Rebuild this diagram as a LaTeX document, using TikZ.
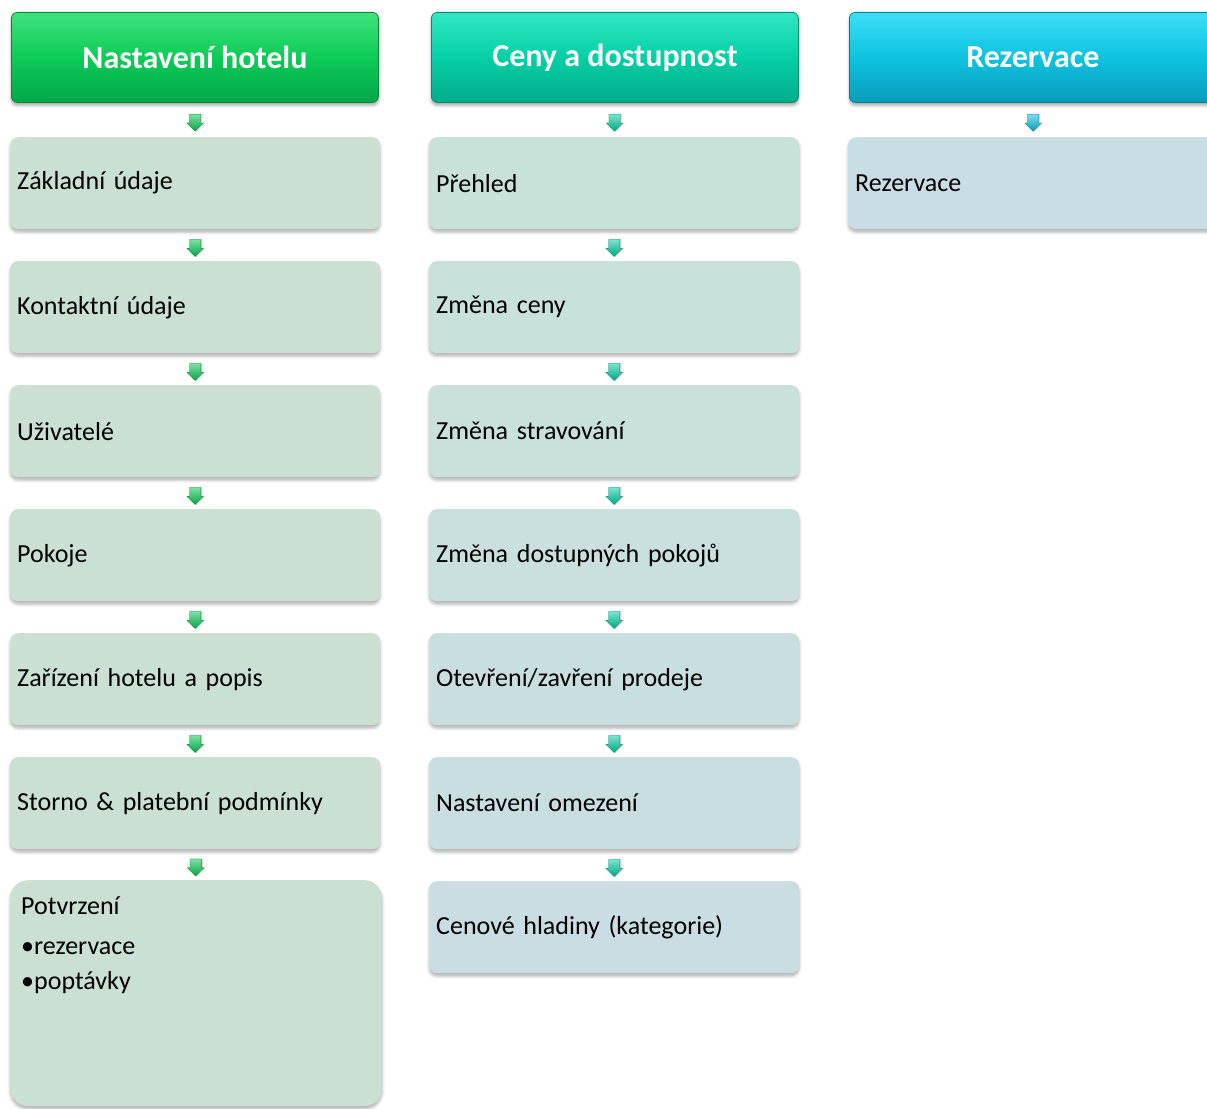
\documentclass[tikz,border=0pt]{standalone}
\usepackage{fontspec}
\setmainfont{Carlito}
\usetikzlibrary{shapes.arrows,shadows.blur,calc}
\definecolor{gT}{HTML}{40E27C}\definecolor{gM}{HTML}{0CCB57}\definecolor{gB}{HTML}{03A749}\definecolor{gD}{HTML}{05843A}
\definecolor{tT}{HTML}{30E8C4}\definecolor{tM}{HTML}{05CFA6}\definecolor{tB}{HTML}{03AC8B}\definecolor{tD}{HTML}{058A70}
\definecolor{cT}{HTML}{3DDEF6}\definecolor{cM}{HTML}{0DC3E0}\definecolor{cB}{HTML}{0A9CBA}\definecolor{cD}{HTML}{077E96}
\definecolor{boxA}{HTML}{C9E0D2}
\definecolor{boxBt}{HTML}{C9E2D9}\definecolor{boxBb}{HTML}{C9DDE3}
\definecolor{boxC}{HTML}{C9DDE4}
\tikzset{
  hdr/.style={rectangle, rounded corners=6pt, anchor=north west, minimum width=367pt, minimum height=90pt,
    font=\bfseries\fontsize{32}{38}\selectfont, text=white, line width=0.8pt,
    blur shadow={shadow xshift=0pt, shadow yshift=-3pt, shadow opacity=35, shadow blur radius=3pt}},
  hdrA/.style={hdr, top color=gT, bottom color=gB, middle color=gM, draw=gD},
  hdrB/.style={hdr, top color=tT, bottom color=tB, middle color=tM, draw=tD},
  hdrC/.style={hdr, top color=cT, bottom color=cB, middle color=cM, draw=cD},
  item/.style={rectangle, rounded corners=8pt, anchor=north west, minimum height=92pt,
    text width=356pt, inner xsep=7pt, align=left, font=\fontsize{26}{31}\selectfont,
    blur shadow={shadow xshift=0pt, shadow yshift=-3pt, shadow opacity=30, shadow blur radius=3pt}},
  darr/.style={single arrow, rotate=-90, minimum height=17pt, inner xsep=0pt, inner ysep=0pt,
    single arrow head extend=2.5pt, draw=#1!70!black, line width=0.3pt,
    top color=#1!55!white, bottom color=#1!80!black,
    blur shadow={shadow xshift=1pt, shadow yshift=0pt, shadow opacity=25, shadow blur radius=1.5pt}},
}
\begin{document}
\begin{tikzpicture}[x=1pt,y=-1pt]
\useasboundingbox (0,0) rectangle (1207,1108);
\clip (0,0) rectangle (1207,1108);
% headers
\node[hdrA] (h1) at (11,12) {Nastavení hotelu};
\node[hdrB] (h2) at (431,12) {Ceny a dostupnost};
\node[hdrC] (h3) at (849,12) {Rezervace};
% column 1
\foreach \t [count=\i from 0] in {Základní údaje,Kontaktní údaje,Uživatelé,Pokoje,Zařízení hotelu a popis,Storno \& platební podmínky}{
  \node[item, fill=boxA] (a\i) at (10,137+124*\i) {\t};
}
\node[item, fill=boxA, rounded corners=18pt, minimum height=226pt, text width=350pt, inner xsep=11pt] (a6) at (10,880)
  {\parbox[c][214pt][t]{350pt}{\vspace{11pt}Potvrzení\\[9pt]\hspace{1pt}\textbullet rezervace\\[4pt]\hspace{1pt}\textbullet poptávky}};
% column 2
\foreach \t [count=\i from 0] in {Přehled,Změna ceny,Změna stravování,Změna dostupných pokojů,Otevření/zavření prodeje,Nastavení omezení,Cenové hladiny (kategorie)}{
  \pgfmathtruncatemacro\pc{100-\i*16}
  \node[item, fill=boxBt!\pc!boxBb] (b\i) at (429,137+124*\i) {\t};
}
% column 3
\node[item, fill=boxC] (c0) at (848,137) {Rezervace};
% arrows
\path (h1.south) -- (a0.north) node[midway, darr=gM]{\rule{0pt}{11pt}};
\foreach \i [remember=\i as \j (initially 0)] in {1,...,6}{
  \path (a\j.south) -- (a\i.north) node[midway, darr=gM]{\rule{0pt}{11pt}};
}
\path (h2.south) -- (b0.north) node[midway, darr=tM]{\rule{0pt}{11pt}};
\foreach \i [remember=\i as \j (initially 0)] in {1,...,6}{
  \path (b\j.south) -- (b\i.north) node[midway, darr=tM]{\rule{0pt}{11pt}};
}
\path (h3.south) -- (c0.north) node[midway, darr=cM]{\rule{0pt}{11pt}};
\end{tikzpicture}
\end{document}
